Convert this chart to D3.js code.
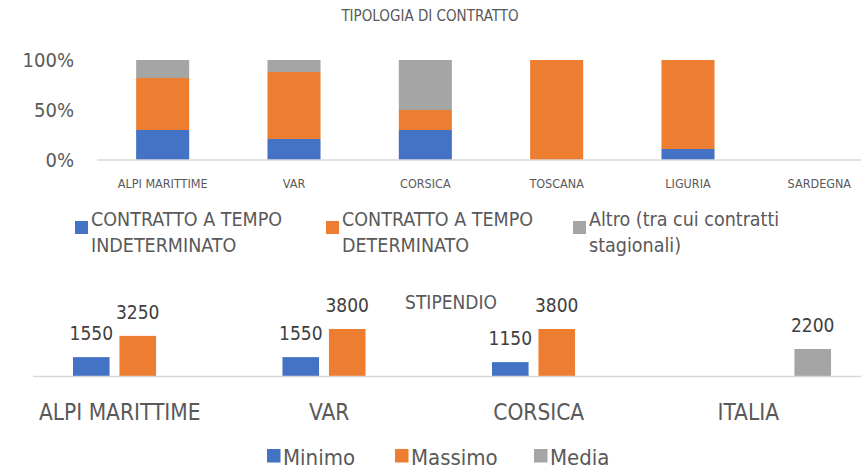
<!DOCTYPE html>
<html lang="it">
<head>
    <meta charset="UTF-8">
    <title>Tipologia di contratto e stipendio</title>
    <script src="https://cdn.jsdelivr.net/npm/d3@7"></script>
    <style>
        body {
            margin: 0;
            padding: 0;
            background: #ffffff;
        }
        svg text {
            font-family: "Liberation Sans Narrow", "Arial Narrow", "DejaVu Sans Condensed", sans-serif;
            fill: #595959;
        }
        .axis-line {
            stroke: #d9d9d9;
            stroke-width: 1.5px;
        }
        text.data-label {
            fill: #404040;
        }
    </style>
</head>
<body>
<div id="chart"></div>
<script>
    // --- dati: tipologia di contratto (percentuali) ---
    const regioni = ["ALPI MARITTIME", "VAR", "CORSICA", "TOSCANA", "LIGURIA", "SARDEGNA"];
    const indeterminato = [30, 21, 30, 0, 11, 0];
    const determinato = [52, 67, 20, 100, 89, 0];
    const altro = [18, 12, 50, 0, 0, 0];
    const serieContratto = ["indeterminato", "determinato", "altro"];
    const legendaContratto = [
        ["CONTRATTO A TEMPO", "INDETERMINATO"],
        ["CONTRATTO A TEMPO", "DETERMINATO"],
        ["Altro (tra cui contratti", "stagionali)"]
    ];
    const tickPercent = [0, 0.5, 1];

    // --- dati: stipendio ---
    const aree = ["ALPI MARITTIME", "VAR", "CORSICA", "ITALIA"];
    const minimo = [1550, 1550, 1150, null];
    const massimo = [3250, 3800, 3800, null];
    const media = [null, null, null, 2200];
    const serieStipendio = ["Minimo", "Massimo", "Media"];

    const colori = ["#4472c4", "#ed7d31", "#a5a5a5"];

    var width = 861, height = 469;

    var svg = d3.select("#chart")
        .append("svg")
        .attr("width", width)
        .attr("height", height);

    // ================= TIPOLOGIA DI CONTRATTO =================
    const tabella = regioni.map((r, i) => ({
        regione: r,
        indeterminato: indeterminato[i] / 100,
        determinato: determinato[i] / 100,
        altro: altro[i] / 100
    }));

    const series = d3.stack().keys(serieContratto)(tabella);

    var x = d3.scaleBand()
        .domain(regioni)
        .range([97, 885])
        .paddingInner(0.596)
        .paddingOuter(0.298);

    var y = d3.scaleLinear().domain([0, 1]).range([160, 60]);

    svg.append("text")
        .attr("x", 430)
        .attr("y", 21)
        .attr("text-anchor", "middle")
        .style("font-size", "15px")
        .text("TIPOLOGIA DI CONTRATTO");

    svg.append("g")
        .selectAll("g")
        .data(series)
        .join("g")
        .attr("fill", (d, i) => colori[i])
        .selectAll("rect")
        .data(d => d)
        .join("rect")
        .attr("x", d => x(d.data.regione))
        .attr("y", d => y(d[1]))
        .attr("height", d => y(d[0]) - y(d[1]))
        .attr("width", x.bandwidth());

    // asse y (solo etichette)
    svg.append("g")
        .selectAll("text")
        .data(tickPercent)
        .join("text")
        .attr("x", 74)
        .attr("y", d => y(d))
        .attr("dy", "0.36em")
        .attr("text-anchor", "end")
        .style("font-size", "20px")
        .text(d3.format(".0%"));

    // asse x
    svg.append("line")
        .attr("class", "axis-line")
        .attr("x1", 97).attr("x2", width)
        .attr("y1", y(0)).attr("y2", y(0));

    svg.append("g")
        .selectAll("text")
        .data(regioni)
        .join("text")
        .attr("x", d => x(d) + x.bandwidth() / 2)
        .attr("y", 188)
        .attr("text-anchor", "middle")
        .style("font-size", "12.5px")
        .text(d => d);

    // legenda
    const legendX = [75, 326, 573];
    const legend1 = svg.append("g")
        .selectAll("g")
        .data(legendaContratto)
        .join("g")
        .attr("transform", (d, i) => "translate(" + legendX[i] + ",0)");

    legend1.append("rect")
        .attr("y", 221)
        .attr("width", 13)
        .attr("height", 13)
        .attr("fill", (d, i) => colori[i]);

    legend1.append("text")
        .attr("x", 16)
        .attr("y", 226)
        .style("font-size", "19.5px")
        .selectAll("tspan")
        .data(d => d)
        .join("tspan")
        .attr("x", 16)
        .attr("dy", (d, i) => i === 0 ? 0 : 26)
        .text(d => d);

    // ================= STIPENDIO =================
    const valoriStipendio = aree.map((a, i) => ({
        area: a,
        valori: [minimo[i], massimo[i], media[i]]
    }));

    var x0 = d3.scaleBand()
        .domain(aree)
        .range([33, 871]);

    var x1 = d3.scaleBand()
        .domain(serieStipendio)
        .range([0, x0.bandwidth()])
        .paddingInner(0.213)
        .paddingOuter(0.86);

    var y2 = d3.scaleLinear().domain([0, 4800]).range([376.5, 316.5]);

    svg.append("text")
        .attr("x", 451)
        .attr("y", 309)
        .attr("text-anchor", "middle")
        .style("font-size", "19px")
        .text("STIPENDIO");

    const gruppi = svg.append("g")
        .selectAll("g")
        .data(valoriStipendio)
        .join("g")
        .attr("transform", d => "translate(" + x0(d.area) + ",0)");

    const barre = gruppi.selectAll("g")
        .data(d => d.valori.map((v, i) => ({ serie: serieStipendio[i], valore: v, idx: i })).filter(e => e.valore !== null))
        .join("g");

    barre.append("rect")
        .attr("x", d => x1(d.serie))
        .attr("y", d => y2(d.valore))
        .attr("width", x1.bandwidth())
        .attr("height", d => y2(0) - y2(d.valore))
        .attr("fill", d => colori[d.idx]);

    barre.append("text")
        .attr("class", "data-label")
        .attr("x", d => x1(d.serie) + x1.bandwidth() / 2)
        .attr("y", d => y2(d.valore) - 17)
        .attr("text-anchor", "middle")
        .style("font-size", "19px")
        .text(d => d.valore);

    svg.append("line")
        .attr("class", "axis-line")
        .attr("x1", 33).attr("x2", width)
        .attr("y1", y2(0)).attr("y2", y2(0));

    svg.append("g")
        .selectAll("text")
        .data(aree)
        .join("text")
        .attr("x", d => x0(d) + x0.bandwidth() / 2 - 18)
        .attr("y", 420)
        .attr("text-anchor", "middle")
        .style("font-size", "22.5px")
        .text(d => d);

    // legenda stipendio
    const legendX2 = [267, 395, 534];
    const legend2 = svg.append("g")
        .selectAll("g")
        .data(serieStipendio)
        .join("g")
        .attr("transform", (d, i) => "translate(" + legendX2[i] + ",0)");

    legend2.append("rect")
        .attr("y", 449)
        .attr("width", 13.5)
        .attr("height", 13.5)
        .attr("fill", (d, i) => colori[i]);

    legend2.append("text")
        .attr("x", 16)
        .attr("y", 465)
        .style("font-size", "22px")
        .text(d => d);
</script>
</body>
</html>
